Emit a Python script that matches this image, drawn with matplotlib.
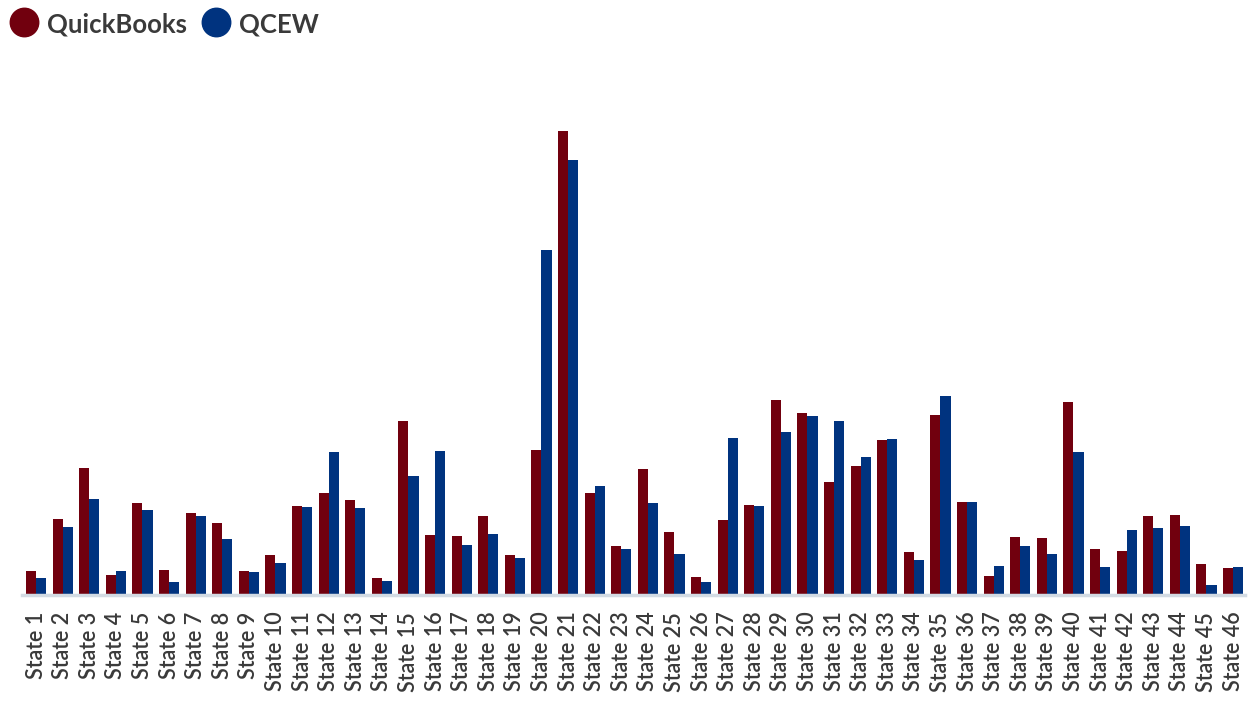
import matplotlib.pyplot as plt
import numpy as np
from matplotlib.lines import Line2D

# bar heights (relative units, no axis shown)
states = [f"State {i}" for i in range(1, 47)]
quickbooks = [24, 76, 127, 20, 92, 25, 82, 72, 24, 40,
              89, 102, 95, 17, 174, 60, 59, 79, 40, 145,
              464, 102, 49, 126, 63, 18, 75, 90, 195, 182,
              113, 129, 155, 43, 180, 93, 19, 58, 57, 193,
              46, 44, 79, 80, 31, 27]
qcew = [17, 68, 96, 24, 85, 13, 79, 56, 23, 32,
        88, 143, 87, 14, 119, 144, 50, 61, 37, 345,
        435, 109, 46, 92, 41, 13, 157, 89, 163, 179,
        174, 138, 156, 35, 199, 93, 29, 49, 41, 143,
        28, 65, 67, 69, 10, 28]

red = "#71000E"
blue = "#00337F"
txt = "#3a3a3a"

plt.rcParams["font.family"] = ["Lato", "DejaVu Sans"]

W, H = 1249, 703
fig = plt.figure(figsize=(W / 100, H / 100), dpi=100)
ax = fig.add_axes([22 / W, 108 / H, 1223 / W, 545 / H])

x = np.arange(len(states))
w = 0.38
ax.bar(x - w / 2, quickbooks, width=w, color=red)
ax.bar(x + w / 2, qcew, width=w, color=blue)

ax.set_xlim(-0.53, 45.45)
ax.set_ylim(0, 545)
ax.set_xticks(x)
ax.set_xticklabels(states, rotation=90, fontsize=15.5, color=txt,
                   fontweight="semibold")
ax.tick_params(axis="x", length=0, pad=12)
ax.set_yticks([])
for s in ["top", "right", "left"]:
    ax.spines[s].set_visible(False)
ax.spines["bottom"].set_color("#d3dbe3")
ax.spines["bottom"].set_linewidth(2.5)

# legend drawn by hand
ly = 1 - 22 / H
for cx, tx, label, col in [(24, 47, "QuickBooks", red), (216, 239, "QCEW", blue)]:
    fig.add_artist(Line2D([cx / W], [ly], marker="o", linestyle="",
                          markersize=20.5, color=col, transform=fig.transFigure))
    fig.text(tx / W, ly, label, ha="left", va="center_baseline",
             fontsize=18.5, fontweight="bold", color=txt)

fig.savefig("out.png", dpi=100)
